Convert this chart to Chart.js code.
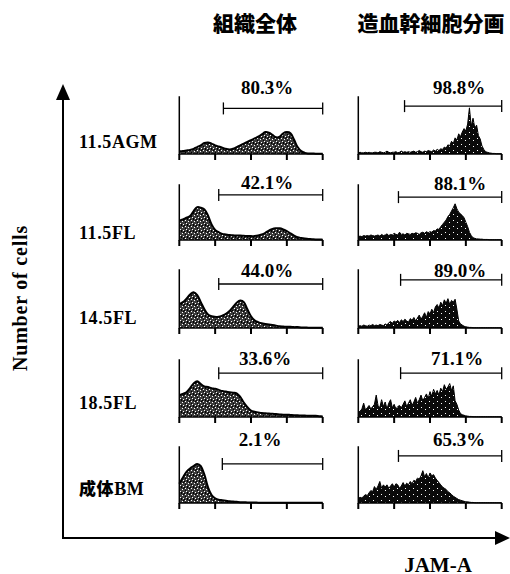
<!DOCTYPE html>
<html>
<head>
<meta charset="utf-8">
<script src="https://cdn.jsdelivr.net/npm/chart.js@4.4.1/dist/chart.umd.min.js"></script>
<style>
  body { margin: 0; background: #fff; }
  #fig { position: relative; width: 510px; height: 574px; overflow: hidden;
         font-family: "Liberation Serif", "Times New Roman", serif; font-weight: bold; color: #000; }
  .t { position: absolute; white-space: nowrap; line-height: 1; transform: translate(-50%, -50%); }
  .cjk { font-family: "Noto Sans CJK JP", "Noto Sans CJK SC", sans-serif; font-weight: 900; }
  canvas { position: absolute; }
</style>
</head>
<body>
<div id="fig">
  <svg width="510" height="574" style="position:absolute;left:0;top:0">
    <line x1="63" y1="539" x2="63" y2="97" stroke="#000" stroke-width="2"/>
    <polygon points="63,84 56,100 70,100" fill="#000"/>
    <line x1="62" y1="538" x2="498" y2="538" stroke="#000" stroke-width="2"/>
    <polygon points="510,538 495,531 495,545" fill="#000"/>
  </svg>
</div>
<script>
// textes
const colTitles = ['組織全体', '造血幹細胞分画'];
const rowLabels = ['11.5AGM', '11.5FL', '14.5FL', '18.5FL', '成体BM'];
const pctWhole = ['80.3%', '42.1%', '44.0%', '33.6%', '2.1%'];
const pctHsc = ['98.8%', '88.1%', '89.0%', '71.1%', '65.3%'];
const xTitle = 'JAM-A';
const yTitle = 'Number of cells';

// histogrammes tissu entier (0 -> 4 décades, pas 0.1)
const wholeAGM115 = [5,5,6,7,9,12,15,19,20,18, 15,13,11,9,8,9,12,15,18,21, 24,27,30,34,38,37,33,29,30,36, 38,36,25,12,5,2,1,1,0.5,0.5, 0.5];
const wholeFL115 = [35,37,40,43,52,59,58,55,44,28, 18,14,11,10,9,8.5,8,8,7.5,7, 7,7,8,10,13,17,20,21,21,19, 16,12,8,5,3.5,2.5,2,1.5,1,1, 0.5];
const wholeFL145 = [41,44,50,57,61,56,44,32,23,20, 19,19,21,24,29,36,43,47,44,32, 20,13,10,8,7,6,5,4,3,2.5, 2,2,1.5,1.5,1,1,0.5,0.5,0.5,0.5, 0.5];
const wholeFL185 = [38,40,43,50,58,62,57,53,52,50, 49,47,45,44,43,42,41,35,25,17, 11,9,8,7,6.5,6,5.5,5,4.5,4, 4,3.5,3,3,2.5,2.5,2,2,2,1.5, 1];
const wholeBM = [34,45,55,61,65,69,65,50,28,14, 8,6,5,4,3,2.5,2,1.5,1.5,1, 1,1,0.5,0.5,0.5,0.5,0.5,0.5,0.5,0.5, 0.5,0.5,0.5,0.5,0.5,0.5,0.5,0.5,0.5,0.5, 0.5];

// histogrammes fraction souche (pas 0.05)
const hscAGM115 = [2,3,2,2,3,2,3,2,2,3, 3,2,4,3,2,3,5,3,2,3, 3,4,2,3,5,3,4,3,4,3, 4,5,3,4,6,4,3,5,4,6,
  5,4,7,5,8,6,9,8,12,10, 16,14,22,18,28,24,35,30,38,44, 40,52,80,48,62,45,50,32,26,14, 8,4,3,2,1.5,1,1,0.5,0.5,0.5, 0.5];
const hscFL115 = [6,7,6,8,7,8,7,9,8,7, 8,9,7,10,8,9,11,8,10,9, 12,10,9,14,10,11,9,12,11,10, 12,11,13,12,10,13,14,12,15,13,
  15,14,17,16,20,19,24,28,32,36, 42,46,52,58,65,56,50,47,44,40, 32,24,14,8,4,3,2,2,1.5,1.5, 1,1,1,0.5,0.5,0.5,0.5,0.5,0.5,0.5, 0.5];
const hscFL145 = [3,4,3,5,4,3,5,4,6,4, 5,4,6,5,4,7,5,9,11,8, 12,10,13,9,14,11,15,12,10,16, 13,18,12,17,22,15,20,26,18,28,
  24,32,26,36,40,34,44,38,48,42, 50,40,47,44,49,32,12,7,5,3, 2,1.5,1,1,0.5,0.5,0.5,0.5,0.5,0.5, 0.5,0.5,0.5,0.5,0.5,0.5,0.5,0.5,0.5,0.5, 0.5];
const hscFL185 = [8,10,14,24,12,16,20,14,18,22, 38,20,16,30,18,26,14,24,30,16, 22,14,18,20,16,22,28,18,24,30, 20,26,34,24,30,38,28,34,40,32,
  44,36,48,40,46,38,50,44,56,48, 52,58,46,54,28,22,12,6,4,3, 2,1.5,1,1,0.5,0.5,0.5,0.5,0.5,0.5, 0.5,0.5,0.5,0.5,0.5,0.5,0.5,0.5,0.5,0.5, 0.5];
const hscBM = [8,10,9,12,15,13,18,22,20,29, 24,30,38,26,32,28,32,26,30,34, 28,34,32,26,30,36,30,35,32,38, 34,40,38,44,42,48,57,46,52,44,
  53,48,50,44,40,36,32,28,26,24, 20,18,15,12,10,8,6,5,4,3, 2,2,1.5,1,1,0.5,0.5,0.5,0.5,0.5, 0.5,0.5,0.5,0.5,0.5,0.5,0.5,0.5,0.5,0.5, 0.5];

// portes (début en décades, hauteur en %)
const gateStartWhole = [1.23, 1.1, 1.1, 1.1, 1.2];
const gateLevelWhole = [79, 81, 75, 76, 69];
const gateStartHsc = [1.29, 1.12, 1.18, 1.18, 1.12];
const gateLevelHsc = [83, 77, 82, 76, 83];
const decadeTicks = [0, 1, 2, 3, 4];

const wholeSeries = [wholeAGM115, wholeFL115, wholeFL145, wholeFL185, wholeBM];
const hscSeries = [hscAGM115, hscFL115, hscFL145, hscFL185, hscBM];

// mise en page
const rowTop = [95, 183, 268, 358, 445];
const rowBase = [154, 240, 328, 417, 503];
const colAxisX = [178, 357];
const panelW = 146;
const pctPos = [
  [[267, 87], [267, 182], [267, 270], [265, 358], [260, 439]],
  [[459, 87], [460, 183], [460, 270], [457, 358], [459, 439]]
];
const rowLabelY = [142, 233, 318, 403, 488];

const fig = document.getElementById('fig');

function addText(txt, x, y, css, cls) {
  const d = document.createElement('div');
  d.className = 't' + (cls ? ' ' + cls : '');
  d.textContent = txt;
  d.style.left = x + 'px';
  d.style.top = y + 'px';
  Object.assign(d.style, css || {});
  fig.appendChild(d);
  return d;
}

addText(colTitles[0], 255, 22, { fontSize: '21px' }, 'cjk');
addText(colTitles[1], 431, 22, { fontSize: '21px' }, 'cjk');
rowLabels.forEach((lab, i) => {
  const d = addText(lab, 79, rowLabelY[i], { fontSize: '18px', letterSpacing: '0.6px', transform: 'translate(0,-50%)' });
  if (lab.startsWith('成体')) {
    d.innerHTML = '<span class="cjk" style="font-size:17px">成体</span>BM';
  }
});
pctWhole.forEach((p, i) => addText(p, pctPos[0][i][0], pctPos[0][i][1], { fontSize: '19px' }));
pctHsc.forEach((p, i) => addText(p, pctPos[1][i][0], pctPos[1][i][1], { fontSize: '19px' }));
addText(xTitle, 438, 565, { fontSize: '21px' });
addText(yTitle, 20, 298, { fontSize: '20px', letterSpacing: '0.8px', transform: 'translate(-50%,-50%) rotate(-90deg)' });

// motifs de remplissage
function stipple(w, h, base, light, dark) {
  const c = document.createElement('canvas');
  c.width = w; c.height = h;
  const g = c.getContext('2d');
  g.fillStyle = base; g.fillRect(0, 0, w, h);
  g.fillStyle = '#fff'; light.forEach(([a, b]) => g.fillRect(a, b, 1, 1));
  g.fillStyle = '#000'; dark.forEach(([a, b]) => g.fillRect(a, b, 1, 1));
  return g.createPattern(c, 'repeat');
}
const wholeFill = stipple(6, 6, '#3c3c3c', [[1,1],[4,2],[2,4],[5,5]], [[3,0],[3,5],[1,3],[5,1],[0,0]]);
const hscFill = stipple(8, 6, '#0a0a0a', [[2,3],[6,1]], []);

// axes de chaque histogramme
const panelAxes = {
  id: 'panelAxes',
  afterDatasetsDraw(chart) {
    const { ctx, scales: { x, y } } = chart;
    const x0 = x.getPixelForValue(0), x4 = x.getPixelForValue(4);
    const yb = y.getPixelForValue(0), yt = y.getPixelForValue(100);
    ctx.save();
    ctx.strokeStyle = '#000';
    ctx.lineWidth = 1.5;
    ctx.beginPath();
    ctx.moveTo(x0, yt); ctx.lineTo(x0, yb); ctx.lineTo(x4, yb);
    ctx.stroke();
    ctx.lineWidth = 2;
    decadeTicks.forEach(d => {
      const px = x.getPixelForValue(d);
      ctx.beginPath(); ctx.moveTo(px, yb); ctx.lineTo(px, yb + 6); ctx.stroke();
    });
    ctx.restore();
  }
};

function makePanel(col, row, values, gateStart, gateLevel) {
  const pad = { left: 6, right: 6, top: 6, bottom: 10 };
  const cv = document.createElement('canvas');
  cv.width = panelW + pad.left + pad.right;
  cv.height = rowBase[row] - rowTop[row] + pad.top + pad.bottom;
  cv.style.left = (colAxisX[col] - pad.left) + 'px';
  cv.style.top = (rowTop[row] - pad.top) + 'px';
  fig.appendChild(cv);
  const step = 4 / (values.length - 1);
  new Chart(cv, {
    type: 'line',
    data: {
      datasets: [
        {
          data: values.map((v, i) => ({ x: i * step, y: v })),
          borderColor: '#000',
          borderWidth: col === 0 ? 2 : 1,
          backgroundColor: col === 0 ? wholeFill : hscFill,
          fill: 'origin',
          tension: col === 0 ? 0.4 : 0,
          pointRadius: 0,
          clip: false
        },
        {
          data: [{ x: gateStart, y: gateLevel }, { x: 4, y: gateLevel }],
          borderColor: '#000',
          borderWidth: 1.3,
          fill: false,
          pointStyle: 'line',
          pointRotation: 90,
          pointRadius: 6,
          pointBorderColor: '#000',
          pointBorderWidth: 1.3,
          clip: false
        }
      ]
    },
    options: {
      responsive: false,
      animation: false,
      events: [],
      layout: { padding: pad },
      scales: {
        x: { type: 'linear', min: 0, max: 4, display: false },
        y: { min: 0, max: 100, display: false }
      },
      plugins: { legend: { display: false }, tooltip: { enabled: false } }
    },
    plugins: [panelAxes]
  });
}

wholeSeries.forEach((s, i) => makePanel(0, i, s, gateStartWhole[i], gateLevelWhole[i]));
hscSeries.forEach((s, i) => makePanel(1, i, s, gateStartHsc[i], gateLevelHsc[i]));
</script>
</body>
</html>
